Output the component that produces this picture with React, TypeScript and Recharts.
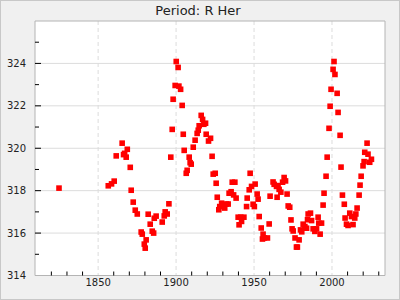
import React from "react";
import {
  ScatterChart,
  Scatter,
  XAxis,
  YAxis,
  CartesianGrid,
  ReferenceArea,
} from "recharts";

// observation year and measured period (days) for R Her
const years = [
  1824.9, 1856.5, 1858.6, 1860.3, 1861.6, 1865.4, 1866.3, 1867.0, 1868.0, 1868.7,
  1870.6, 1871.2, 1872.5, 1873.8, 1875.1, 1877.6, 1878.3, 1879.6, 1880.2, 1880.8,
  1882.1, 1883.4, 1884.7, 1885.6, 1886.0, 1887.2, 1891.1, 1892.4, 1893.0, 1894.3,
  1895.4, 1896.6, 1897.5, 1898.1, 1899.4, 1900.1, 1901.3, 1901.8, 1902.9, 1903.9,
  1904.6, 1905.2, 1906.5, 1907.1, 1908.4, 1909.0, 1909.7, 1911.0, 1912.2, 1913.5,
  1914.2, 1914.8, 1916.1, 1917.0, 1917.8, 1918.9, 1919.3, 1920.8, 1922.1, 1923.1,
  1923.8, 1925.1, 1925.7, 1926.4, 1927.4, 1928.0, 1929.2, 1930.6, 1931.2, 1932.3,
  1933.4, 1934.0, 1935.3, 1936.0, 1936.9, 1937.7, 1938.5, 1939.8, 1940.4, 1941.5,
  1942.0, 1943.5, 1945.2, 1945.6, 1946.9, 1947.5, 1948.4, 1949.4, 1950.2, 1950.7,
  1952.0, 1952.6, 1953.3, 1954.6, 1955.4, 1955.8, 1956.6, 1958.6, 1959.7, 1960.3,
  1962.2, 1962.9, 1964.4, 1964.8, 1965.4, 1966.1, 1967.2, 1968.3, 1969.3, 1970.2,
  1971.2, 1971.9, 1972.9, 1973.7, 1974.4, 1975.1, 1976.3, 1977.2, 1977.8, 1978.9,
  1979.8, 1980.6, 1981.5, 1982.6, 1983.7, 1984.3, 1984.7, 1986.2, 1986.9, 1987.9,
  1989.0, 1990.1, 1991.1, 1991.5, 1992.4, 1993.3, 1994.3, 1994.9, 1996.2, 1996.9,
  1998.1, 1998.8, 1999.4, 2000.7, 2001.3, 2001.9, 2003.3, 2003.9, 2005.2, 2005.8,
  2006.7, 2007.9, 2008.4, 2009.3, 2010.3, 2011.4, 2012.5, 2013.5, 2014.6, 2015.3,
  2016.1, 2017.4, 2018.0, 2018.7, 2019.9, 2020.6, 2021.0, 2022.5, 2023.1, 2024.2,
  2025.3,
];

const periods = [
  318.12, 318.23, 318.32, 318.45, 319.64, 320.24, 319.7, 319.76, 319.58, 319.95,
  319.1, 318.02, 317.46, 317.08, 316.9, 316.05, 315.95, 315.48, 315.29, 315.68,
  316.89, 316.42, 316.09, 316.0, 316.7, 316.8, 316.52, 316.81, 317.0, 316.9,
  317.38, 319.58, 320.89, 322.31, 322.96, 324.09, 323.81, 322.93, 322.78, 322.02,
  320.66, 319.9, 318.82, 318.96, 319.58, 319.32, 319.25, 320.05, 320.38, 320.7,
  320.85, 321.06, 321.55, 321.36, 321.13, 321.18, 320.66, 320.34, 320.47, 319.62,
  318.78, 318.82, 318.35, 317.69, 317.1, 317.25, 317.41, 317.33, 317.18, 317.37,
  317.37, 317.88, 317.95, 318.4, 317.8, 318.4, 317.65, 316.75, 316.39, 316.75,
  316.55, 316.75, 317.25, 317.65, 318.04, 318.82, 318.2, 317.36, 317.25, 318.31,
  317.84, 317.6, 316.78, 316.24, 315.72, 315.95, 315.77, 315.77, 316.43, 317.74,
  318.41, 318.3, 318.2, 317.69, 318.24, 318.06, 317.93, 318.4, 318.62, 318.46,
  317.84, 317.28, 317.22, 316.62, 316.2, 316.1, 315.77, 315.34, 315.34, 315.68,
  316.15, 316.06, 316.42, 316.31, 316.23, 316.63, 316.9, 316.94, 316.59, 316.2,
  316.08, 316.2, 316.75, 316.47, 315.95, 316.47, 317.32, 317.88, 318.68, 319.58,
  320.94, 321.98, 322.78, 323.72, 324.09, 323.48, 322.59, 321.69, 320.61, 319.11,
  317.79, 317.36, 316.71, 316.42, 316.36, 316.94, 316.78, 316.4, 316.71, 316.9,
  317.18, 317.79, 318.26, 318.68, 319.17, 319.37, 319.81, 320.24, 319.72, 319.34,
  319.48,
];

// labelled ticks + the unlabelled minor ones
const xLabelTicks = [1850, 1900, 1950, 2000];
const xAllTicks = [
  1820, 1830, 1840, 1850, 1860, 1870, 1880, 1890, 1900, 1910, 1920, 1930, 1940,
  1950, 1960, 1970, 1980, 1990, 2000, 2010, 2020, 2030,
];
const yLabelTicks = [314, 316, 318, 320, 322, 324];
const yAllTicks = [314, 315, 316, 317, 318, 319, 320, 321, 322, 323, 324, 325];

const X_DOMAIN = [1809.5, 2034];
const Y_DOMAIN = [314, 326];

const X_GAP = 3; // tickSize + tickMargin of x axis
const Y_GAP = 9; // tickSize + tickMargin of y axis

const data = years.map((year, i) => ({ year, period: periods[i] }));

const SquareDot = ({ cx, cy }: any) => (
  <rect x={cx - 2.8} y={cy - 2.8} width={5.6} height={5.6} fill="#ff0000" />
);

const XTick = ({ x, y, payload }: any) => {
  const v = payload.value;
  if (xLabelTicks.includes(v)) {
    return (
      <text x={x} y={y} dy="0.71em" textAnchor="middle" fontSize={10} fill="#222">
        {v}
      </text>
    );
  }
  const top = y - X_GAP;
  return <line x1={x} x2={x} y1={top} y2={top - 4} stroke="#000" />;
};

const YTick = ({ x, y, payload }: any) => {
  const v = payload.value;
  const edge = x + Y_GAP;
  if (yLabelTicks.includes(v)) {
    return (
      <g>
        <text x={x} y={y} dy="0.355em" textAnchor="end" fontSize={10} fill="#222">
          {v}
        </text>
        {v !== Y_DOMAIN[0] && <line x1={edge} x2={edge + 6} y1={y} y2={y} stroke="#000" />}
      </g>
    );
  }
  return <line x1={edge} x2={edge + 4} y1={y} y2={y} stroke="#000" />;
};

export default function App() {
  return (
    <div
      style={{
        position: "relative",
        width: 400,
        height: 300,
        background: "#f0f0f0",
        fontFamily: "'DejaVu Sans', sans-serif",
      }}
    >
      <style>{"body{margin:0}"}</style>
      <div
        style={{
          position: "absolute",
          top: 3,
          left: 0,
          width: 396,
          textAlign: "center",
          fontSize: 13,
          color: "#222",
        }}
      >
        Period: R Her
      </div>
      <ScatterChart
        width={400}
        height={300}
        margin={{ top: 21, right: 15, bottom: 0, left: 0 }}
      >
        <CartesianGrid
          horizontal
          vertical={false}
          horizontalValues={yLabelTicks}
          stroke="#dcdcdc"
          fill="#fff"
        />
        <CartesianGrid
          horizontal={false}
          vertical
          verticalValues={xLabelTicks}
          stroke="#dcdcdc"
          strokeDasharray="4 3"
        />
        <ReferenceArea
          x1={X_DOMAIN[0]}
          x2={X_DOMAIN[1]}
          y1={Y_DOMAIN[0]}
          y2={Y_DOMAIN[1]}
          fill="none"
          stroke="#b4b4b4"
          strokeOpacity={1}
          ifOverflow="visible"
        />
        <XAxis
          type="number"
          dataKey="year"
          domain={X_DOMAIN}
          ticks={xAllTicks}
          interval={0}
          allowDataOverflow
          axisLine={false}
          tickLine={false}
          tickSize={X_GAP}
          tickMargin={0}
          height={24.5}
          tick={<XTick />}
        />
        <YAxis
          type="number"
          dataKey="period"
          domain={Y_DOMAIN}
          ticks={yAllTicks}
          interval={0}
          allowDataOverflow
          axisLine={false}
          tickLine={false}
          tickSize={6}
          tickMargin={Y_GAP - 6}
          width={35}
          tick={<YTick />}
        />
        <Scatter
          data={data}
          shape={<SquareDot />}
          isAnimationActive={false}
        />
      </ScatterChart>
      <div
        style={{
          position: "absolute",
          inset: 0,
          border: "1px solid #c8c8c8",
          pointerEvents: "none",
        }}
      />
    </div>
  );
}
